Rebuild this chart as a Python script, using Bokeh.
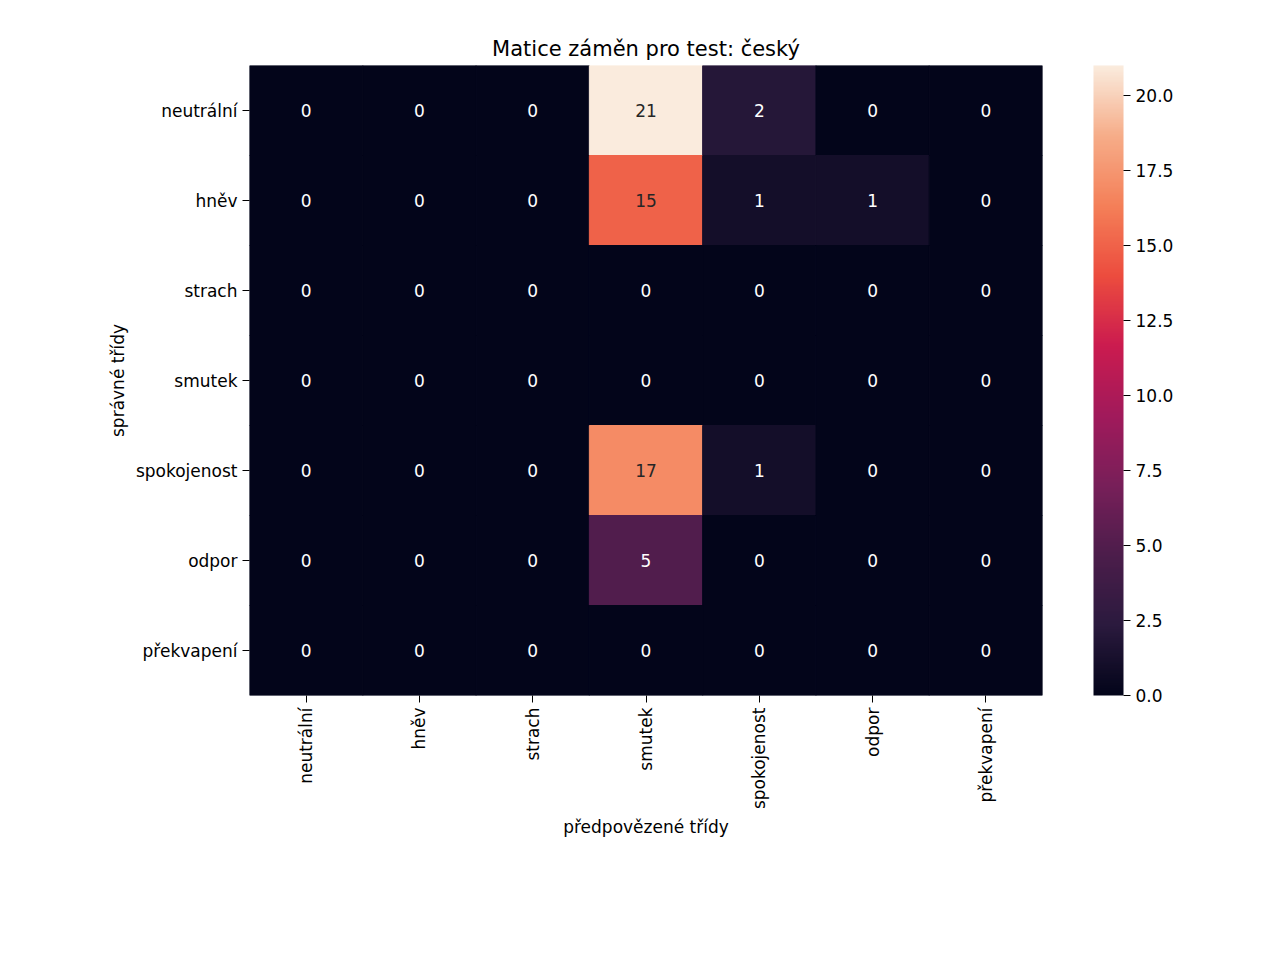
import numpy as np
from bokeh.plotting import figure
from bokeh.models import ColumnDataSource, LinearColorMapper, ColorBar, FixedTicker, NumeralTickFormatter
from bokeh.embed import file_html
from bokeh.resources import INLINE
from bokeh.core.properties import value

classes = ["neutrální", "hněv", "strach", "smutek", "spokojenost", "odpor", "překvapení"]
matrix = [
    [0, 0, 0, 21, 2, 0, 0],
    [0, 0, 0, 15, 1, 1, 0],
    [0, 0, 0, 0, 0, 0, 0],
    [0, 0, 0, 0, 0, 0, 0],
    [0, 0, 0, 17, 1, 0, 0],
    [0, 0, 0, 5, 0, 0, 0],
    [0, 0, 0, 0, 0, 0, 0],
]
cb_ticks = [0, 2.5, 5, 7.5, 10, 12.5, 15, 17.5, 20]

anchors = ["#03051A", "#2B1A3E", "#4C1D4B", "#781F59", "#A11A5B", "#CB1B4F", "#EC4C3E", "#F47F58", "#F6AC88", "#FAEBDD"]
def hex2rgb(h):
    return np.array([int(h[i:i+2], 16) for i in (1, 3, 5)], float)
A = np.array([hex2rgb(h) for h in anchors])
pos = np.linspace(0, 1, len(A))
t = np.linspace(0, 1, 256)
palette = ["#%02x%02x%02x" % tuple(int(round(np.interp(tt, pos, A[:, k]))) for k in range(3)) for tt in t]

vmax = 21
xs, ys, vals, txt, tcol, fcol = [], [], [], [], [], []
for i, row in enumerate(matrix):
    for j, v in enumerate(row):
        xs.append(classes[j]); ys.append(classes[i]); vals.append(v); txt.append(str(v))
        tcol.append("#262626" if v / vmax > 0.6 else "white")
        fcol.append(palette[min(255, int(v / vmax * 255))])
src = ColumnDataSource(dict(x=xs, y=ys, v=vals, t=txt, c=tcol, f=fcol))

mapper = LinearColorMapper(palette=palette, low=0, high=vmax)
p = figure(frame_width=793, frame_height=630, x_range=classes, y_range=list(reversed(classes)),
           output_backend="svg", toolbar_location=None,
           min_border_left=249, min_border_right=200, min_border_top=65, min_border_bottom=100,
           title="Matice záměn pro test: český")
p.rect("x", "y", 1, 1, source=src, fill_color="f", line_color="f", line_width=1)
p.text("x", "y", text="t", source=src, text_color="c", text_align="center", text_baseline="middle",
       text_font=value("DejaVu Sans"), text_font_size="17px")
p.title.align = "center"
p.title.text_font = "DejaVu Sans"
p.title.text_font_size = "21px"
p.title.text_font_style = "normal"
p.title.text_color = "black"
p.xaxis.major_label_orientation = np.pi / 2
for ax in (p.xaxis, p.yaxis):
    ax.axis_line_color = None
    ax.major_label_text_font = "DejaVu Sans"
    ax.major_label_text_font_size = "17px"
    ax.major_label_text_color = "black"
    ax.axis_label_text_font = "DejaVu Sans"
    ax.axis_label_text_font_size = "17px"
    ax.axis_label_text_font_style = "normal"
    ax.axis_label_text_color = "black"
    ax.major_tick_out = 7
    ax.major_tick_in = 0
    ax.major_tick_line_color = "black"
    ax.minor_tick_line_color = None
p.xaxis.axis_label = "předpovězené třídy"
p.yaxis.axis_label = "správné třídy"
p.grid.visible = False
p.outline_line_color = None

cb = ColorBar(color_mapper=mapper, width=30, height=630, ticker=FixedTicker(ticks=cb_ticks),
              formatter=NumeralTickFormatter(format="0.0"), padding=0, margin=0,
              location=(844, 0), background_fill_alpha=0,
              major_label_text_font="DejaVu Sans", major_label_text_font_size="17px",
              major_label_text_color="black",
              major_tick_out=7, major_tick_in=0, major_tick_line_color="black",
              bar_line_color=None, border_line_color=None)
p.add_layout(cb, "center")

open("out.html", "w").write(file_html(p, INLINE))
